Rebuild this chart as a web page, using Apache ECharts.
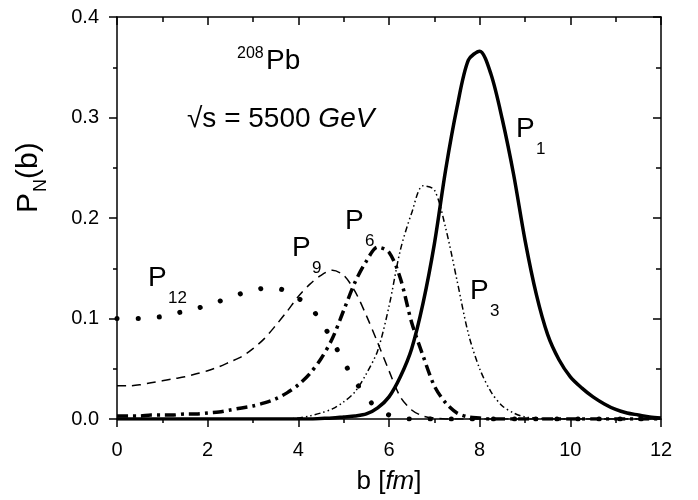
<!DOCTYPE html>
<html>
<head>
<meta charset="utf-8">
<script src="https://cdn.jsdelivr.net/npm/echarts@6/dist/echarts.min.js"></script>
<style>html,body{margin:0;padding:0;background:#fff}#c{width:698px;height:500px}</style>
</head>
<body>
<div id="c"></div>
<script>
// impact parameter b [fm]
const bValues = [0,0.25,0.5,0.75,1,1.25,1.5,1.75,2,2.25,2.5,2.75,3,3.25,3.5,3.75,4,4.25,4.5,4.75,5,5.25,5.5,5.75,6,6.25,6.5,6.75,7,7.25,7.5,7.75,8,8.25,8.5,8.75,9,9.25,9.5,9.75,10,10.25,10.5,10.75,11,11.25,11.5,11.75,12];
const P1 = [0,0,0,0,0,0,0,0,0,0,0,0,0,0,0,0,0,0,0.0005,0.001,0.002,0.003,0.005,0.011,0.022,0.042,0.07,0.115,0.174,0.248,0.31,0.357,0.366,0.343,0.298,0.243,0.178,0.124,0.084,0.059,0.042,0.031,0.022,0.015,0.0095,0.006,0.004,0.002,0.001];
const P3 = [0,0,0,0,0,0,0,0,0,0,0,0,0,0,0,0,0.001,0.003,0.006,0.01,0.017,0.027,0.045,0.068,0.112,0.168,0.205,0.232,0.228,0.19,0.138,0.085,0.05,0.027,0.013,0.006,0.002,0.001,0,0,0,0,0,0,0,0,0,0,0];
const P6 = [0.003,0.003,0.003,0.004,0.004,0.004,0.005,0.005,0.006,0.007,0.009,0.011,0.013,0.016,0.02,0.026,0.034,0.045,0.06,0.08,0.108,0.136,0.157,0.171,0.166,0.14,0.096,0.063,0.033,0.016,0.006,0.002,0.001,0,0,0,0,0,0,0,0,0,0,0,0,0,0,0,0];
const P9 = [0.033,0.033,0.034,0.036,0.038,0.04,0.042,0.045,0.048,0.052,0.057,0.062,0.07,0.08,0.093,0.107,0.122,0.134,0.143,0.148,0.143,0.127,0.103,0.076,0.048,0.022,0.009,0.003,0.001,0,0,0,0,0,0,0,0,0,0,0,0,0,0,0,0,0,0,0,0];
const P12 = [0.1,0.1,0.1,0.101,0.102,0.105,0.107,0.11,0.113,0.117,0.121,0.125,0.128,0.13,0.13,0.127,0.12,0.112,0.097,0.078,0.057,0.038,0.022,0.01,0.004,0.001,0,0,0,0,0,0,0,0,0,0,0,0,0,0,0,0,0,0,0,0,0,0,0];
const xTicks = [0,2,4,6,8,10,12];
const yTicks = ['0.0','0.1','0.2','0.3','0.4'];

const FONT = '"Liberation Sans", Arial, sans-serif';
const pair = (ys) => bValues.map((b, i) => [b, ys[i]]);

const chart = echarts.init(document.getElementById('c'), null, {renderer: 'canvas'});
const axisCommon = {
  type: 'value',
  axisLine: {show: true, onZero: false, lineStyle: {color: '#000', width: 1.5}},
  splitLine: {show: false},
};
function mkSeries(name, ys, lw, type, cap) {
  return {
    name, type: 'line', data: pair(ys), showSymbol: false, symbol: 'none',
    smooth: 0.3, z: 3,
    lineStyle: {color: '#000', width: lw, type: type, cap: cap || 'butt', join: 'round'}
  };
}
const option = {
  animation: false,
  backgroundColor: '#fff',
  grid: {left: 117, right: 37, top: 17, bottom: 81},
  xAxis: [
    Object.assign({}, axisCommon, {
      min: xTicks[0], max: xTicks[xTicks.length - 1], interval: 2, position: 'bottom',
      axisTick: {show: true, inside: false, length: 8, lineStyle: {color: '#000', width: 1.5}},
      minorTick: {show: true, splitNumber: 2, length: 4, lineStyle: {color: '#000', width: 1.5}},
      axisLabel: {color: '#000', fontSize: 20, fontFamily: FONT, margin: 21},
      name: '{n|b [}{i|fm}{n|]}', nameLocation: 'middle', nameGap: 50,
      nameTextStyle: {rich: {n: {fontSize: 26, fontFamily: FONT, color: '#000'}, i: {fontSize: 26, fontFamily: FONT, fontStyle: 'italic', color: '#000'}}}
    }),
    Object.assign({}, axisCommon, {
      min: xTicks[0], max: xTicks[xTicks.length - 1], interval: 2, position: 'top',
      axisTick: {show: true, inside: true, length: 8, lineStyle: {color: '#000', width: 1.5}},
      minorTick: {show: true, splitNumber: 2, length: 5, lineStyle: {color: '#000', width: 1.5}},
      axisLabel: {show: false}
    })
  ],
  yAxis: [
    Object.assign({}, axisCommon, {
      min: 0, max: 0.4, interval: 0.1, position: 'left',
      axisTick: {show: true, inside: false, length: 8, lineStyle: {color: '#000', width: 1.5}},
      minorTick: {show: true, splitNumber: 2, length: 4, lineStyle: {color: '#000', width: 1.5}},
      axisLabel: {color: '#000', fontSize: 20, fontFamily: FONT, margin: 18, formatter: (v) => yTicks[Math.round(v * 10)]}
    }),
    Object.assign({}, axisCommon, {
      min: 0, max: 0.4, interval: 0.1, position: 'right',
      axisTick: {show: true, inside: true, length: 8, lineStyle: {color: '#000', width: 1.5}},
      minorTick: {show: true, splitNumber: 2, length: 5, lineStyle: {color: '#000', width: 1.5}},
      axisLabel: {show: false}
    })
  ],
  series: [
    mkSeries('P1', P1, 3.5, 'solid'),
    mkSeries('P3', P3, 1.5, [6, 3, 1.5, 3, 1.5, 3]),
    mkSeries('P6', P6, 3.5, [11, 5, 3, 5]),
    mkSeries('P9', P9, 1.5, [9, 6]),
    mkSeries('P12', P12, 5, [0.1, 21], 'round')
  ],
  graphic: []
};
chart.setOption(option);

function txt(x, y, text, size, extra) {
  return {type: 'text', x: x, y: y, z: 10, style: Object.assign({text: text, fontSize: size, fontFamily: FONT, fill: '#000', align: 'left', verticalAlign: 'bottom'}, extra || {})};
}
function plabel(x, y, sub) {
  return [txt(x, y, 'P', 28), txt(x + 20, y + 15, sub, 17)];
}
const g = [];
g.push(...plabel(516, 143, '1'));
g.push(...plabel(470, 305, '3'));
g.push(...plabel(345, 235, '6'));
g.push(...plabel(292, 262, '9'));
g.push(...plabel(148, 292, '12'));
g.push(txt(237, 62, '208', 16));
g.push(txt(266, 75, 'Pb', 28));
g.push({type: 'text', x: 187, y: 133, z: 10, style: {text: '√s = 5500 {i|GeV}', fontSize: 28, fontFamily: FONT, fill: '#000', verticalAlign: 'bottom', rich: {i: {fontSize: 28, fontFamily: FONT, fontStyle: 'italic', fill: '#000'}}}});
g.push({type: 'group', x: 44, y: 213, rotation: Math.PI / 2, children: [
  {type: 'text', x: 0, y: 0, style: {text: 'P', fontSize: 30, fontFamily: FONT, fill: '#000', verticalAlign: 'bottom'}},
  {type: 'text', x: 21, y: 6, style: {text: 'N', fontSize: 18, fontFamily: FONT, fill: '#000', verticalAlign: 'bottom'}},
  {type: 'text', x: 34, y: 0, style: {text: '(b)', fontSize: 30, fontFamily: FONT, fill: '#000', verticalAlign: 'bottom'}}
]});
chart.setOption({graphic: g});
</script>
</body>
</html>
